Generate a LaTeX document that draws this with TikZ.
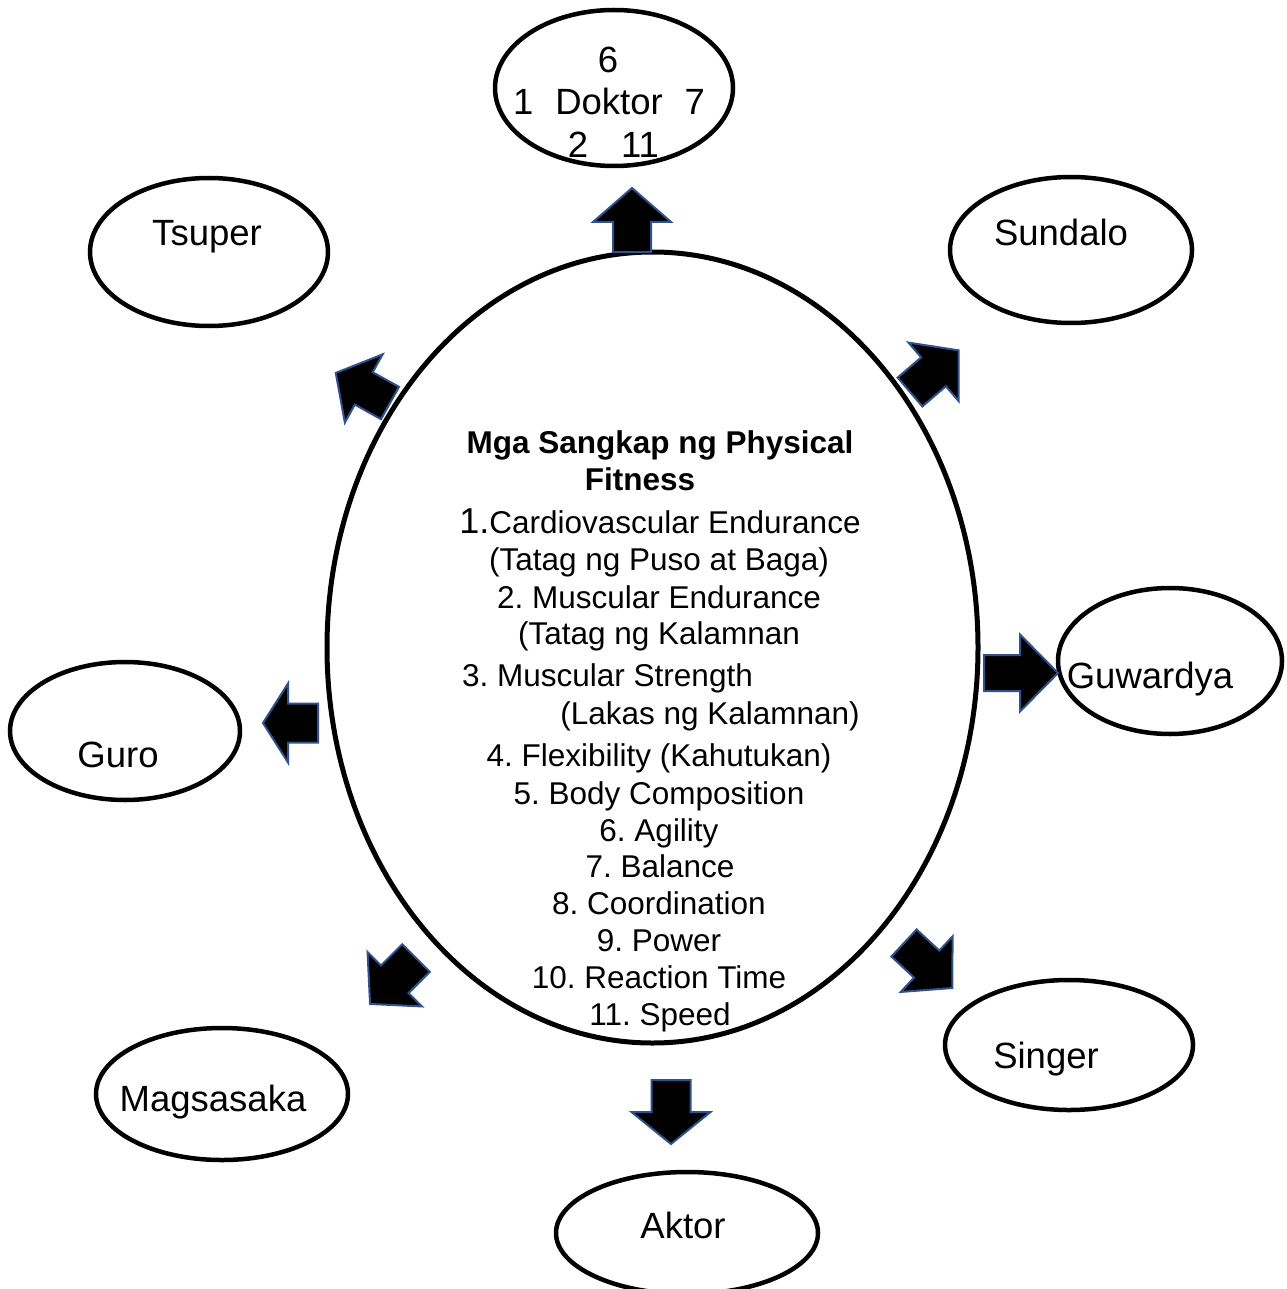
\documentclass[tikz,border=0pt]{standalone}
\usepackage{fontspec}
\setmainfont{Liberation Sans}
\usetikzlibrary{shapes.geometric}
\definecolor{arrowedge}{HTML}{2F528F}
\frenchspacing
\tikzset{
  job/.style={draw=black, line width=4.5pt, ellipse, inner sep=0pt},
  mainell/.style={draw=black, line width=5pt, ellipse, inner sep=0pt},
  joblabel/.style={anchor=base, inner sep=0pt, font=\fontsize{36.5}{40}\selectfont},
  listline/.style={anchor=base, inner sep=0pt, font=\fontsize{31.5}{37}\selectfont},
  listtitle/.style={anchor=base, inner sep=0pt, font=\fontsize{31.5}{37}\selectfont\bfseries},
  barrow/.style={fill=black, draw=arrowedge, line width=2pt, line join=miter},
}
\newcommand{\blockarrow}[7]{%
  \begin{scope}[shift={(#1,#2)},rotate=#3]
    \draw[barrow] (0,{-#5/2}) -- ({#4-#6},{-#5/2}) -- ({#4-#6},{-#7/2}) -- (#4,0)
      -- ({#4-#6},{#7/2}) -- ({#4-#6},{#5/2}) -- (0,{#5/2}) -- cycle;
  \end{scope}}
\begin{document}
\begin{tikzpicture}[x=1pt,y=-1pt]
\useasboundingbox (0,0) rectangle (1286,1289);
\fill[white] (0,0) rectangle (1286,1289);

% outer ellipses
\node[job, minimum width=238pt, minimum height=156pt] (doktor) at (614,88) {};
\node[job, minimum width=238pt, minimum height=148pt] (tsuper) at (209,252) {};
\node[job, minimum width=242pt, minimum height=146pt] (sundalo) at (1071,250) {};
\node[job, minimum width=224pt, minimum height=146pt] (guwardya) at (1170,661) {};
\node[job, minimum width=230pt, minimum height=138pt] (guro) at (125,731) {};
\node[job, minimum width=252pt, minimum height=132pt] (magsasaka) at (222,1094) {};
\node[job, minimum width=248pt, minimum height=130pt] (singer) at (1069,1045) {};
\node[job, minimum width=262pt, minimum height=122pt] (aktor) at (687,1233) {};

% central ellipse
\node[mainell, minimum width=651pt, minimum height=791pt] (center) at (652.5,647.5) {};

% labels
\node[joblabel] (t6) at (608,73) {6};
\node[joblabel] (tdoktor) at (609,115) {1\hspace{0.6em}Doktor\hspace{0.6em}7};
\node[joblabel] (t2) at (578,158) {2};
\node[joblabel] (t11) at (640,158) {11};
\node[joblabel] (ttsuper) at (207,246) {Tsuper};
\node[joblabel] (tsundalo) at (1061,246) {Sundalo};
\node[joblabel] (tguwardya) at (1150,688) {Guwardya};
\node[joblabel] (tguro) at (118,767) {Guro};
\node[joblabel] (tmagsasaka) at (213,1111) {Magsasaka};
\node[joblabel] (tsinger) at (1046,1068) {Singer};
\node[joblabel] (taktor) at (683,1238) {Aktor};

% central list
\node[listtitle] (l0a) at (660,453) {Mga Sangkap ng Physical};
\node[listtitle] (l0b) at (640,490) {Fitness};
\node[listline] (l1a) at (660,533) {{\fontsize{36}{37}\selectfont 1.}Cardiovascular Endurance};
\node[listline] (l1b) at (659,570) {(Tatag ng Puso at Baga)};
\node[listline] (l2a) at (659,608) {2. Muscular Endurance};
\node[listline] (l2b) at (659,644) {(Tatag ng Kalamnan};
\node[listline, anchor=base west] (l3a) at (462,686) {3. Muscular Strength};
\node[listline, anchor=base east] (l3b) at (860,724) {(Lakas ng Kalamnan)};
\node[listline] (l4) at (659,766) {4. Flexibility (Kahutukan)};
\node[listline] (l5) at (659,804) {5. Body Composition};
\node[listline] (l6) at (659,841) {6. Agility};
\node[listline] (l7) at (660,877) {7. Balance};
\node[listline] (l8) at (659,914) {8. Coordination};
\node[listline] (l9) at (659,951) {9. Power};
\node[listline] (l10) at (659,988) {10. Reaction Time};
\node[listline] (l11) at (660,1025) {11. Speed};

% block arrows: tail x, tail y, angle, length, shaft width, head length, head width
\blockarrow{632}{252}{90}{64}{38}{34}{78}
\blockarrow{671}{1080}{-90}{64}{39}{32}{79}
\blockarrow{984}{673}{0}{74}{36}{38}{77}
\blockarrow{318}{723}{180}{55}{39}{25}{79}
\blockarrow{390}{403}{151}{62}{37}{32}{78}
\blockarrow{910}{392}{40.6}{64}{38}{33}{77}
\blockarrow{416}{958}{225}{65}{39}{35}{77}
\blockarrow{904}{943}{-43}{66}{37}{35}{76}
\end{tikzpicture}
\end{document}
